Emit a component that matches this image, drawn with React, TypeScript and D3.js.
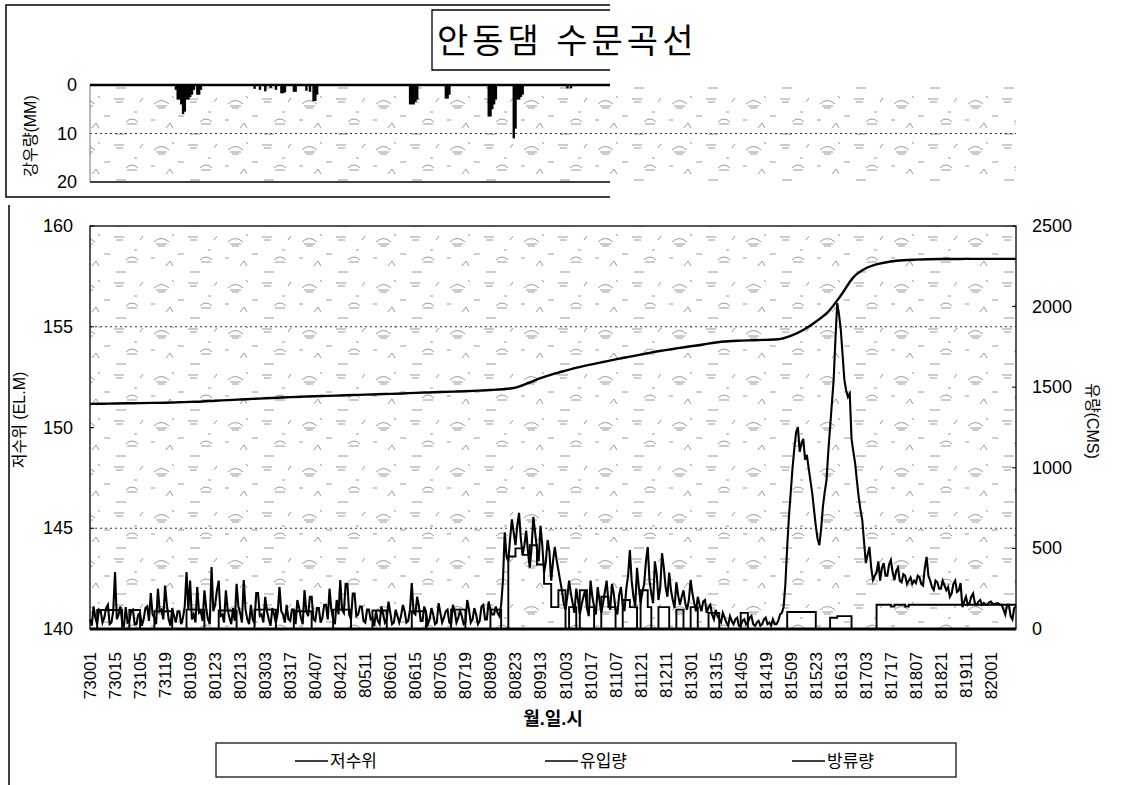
import React, { useEffect, useRef } from 'react';
import * as d3 from 'd3';

// x axis labels (month/day/hour), one every 14 hours
const xLabels = [
  '73001', '73015', '73105', '73119', '80109', '80123', '80213', '80303', '80317', '80407',
  '80421', '80511', '80601', '80615', '80705', '80719', '80809', '80823', '80913', '81003',
  '81017', '81107', '81121', '81211', '81301', '81315', '81405', '81419', '81509', '81523',
  '81613', '81703', '81717', '81807', '81821', '81911', '82001',
];
const labelStep = 14;
const totalHours = 518;

// reservoir level (EL.m), one reading every 7 hours
const levelStep = 7;
const waterLevel = [
  151.17, 151.18, 151.19, 151.2, 151.21, 151.22, 151.23, 151.25, 151.27, 151.29,
  151.33, 151.36, 151.39, 151.42, 151.45, 151.48, 151.51, 151.53, 151.55, 151.57,
  151.59, 151.61, 151.63, 151.65, 151.67, 151.69, 151.72, 151.74, 151.76, 151.78,
  151.8, 151.83, 151.86, 151.9, 151.98, 152.2, 152.45, 152.65, 152.82, 152.98,
  153.12, 153.25, 153.38, 153.5, 153.62, 153.74, 153.84, 153.94, 154.03, 154.12,
  154.22, 154.28, 154.31, 154.33, 154.35, 154.38, 154.55, 154.84, 155.25, 155.75,
  156.55, 157.45, 157.9, 158.12, 158.24, 158.3, 158.33, 158.35, 158.36, 158.36,
  158.37, 158.37, 158.37, 158.37, 158.37,
];

// inflow (CMS), hourly
const inflowStep = 1;
const inflow = [
  60, 20, 140, 70, 30, 120, 110, 40, 70, 130, 150, 30, 40, 110, 354, 60, 90, 140, 40, 20,
  136, 40, 50, 110, 120, 30, 30, 90, 100, 20, 60, 130, 140, 50, 223, 90, 70, 30, 250, 110,
  120, 60, 270, 150, 60, 20, 130, 80, 40, 110, 110, 30, 70, 140, 354, 120, 300, 60, 90, 40,
  260, 100, 110, 50, 240, 130, 60, 30, 385, 110, 150, 240, 300, 80, 90, 40, 240, 120, 70, 30,
  130, 50, 280, 140, 100, 40, 304, 120, 60, 30, 150, 60, 40, 223, 223, 80, 90, 40, 200, 110,
  60, 20, 130, 90, 40, 100, 260, 110, 90, 40, 150, 60, 50, 120, 120, 30, 180, 130, 70, 30,
  242, 110, 80, 200, 200, 60, 50, 130, 130, 40, 70, 150, 150, 60, 250, 120, 60, 30, 180, 90,
  304, 120, 100, 280, 280, 90, 60, 220, 220, 80, 90, 140, 140, 50, 40, 120, 120, 60, 70, 20,
  110, 50, 30, 140, 90, 40, 60, 170, 100, 30, 40, 120, 80, 40, 80, 150, 110, 40, 50, 120,
  285, 100, 90, 200, 140, 50, 50, 140, 100, 30, 60, 130, 90, 30, 40, 160, 100, 40, 70, 110,
  120, 40, 30, 150, 110, 40, 70, 110, 80, 30, 40, 180, 120, 40, 60, 130, 90, 30, 50, 140,
  150, 60, 60, 170, 120, 90, 90, 140, 100, 80, 150, 300, 600, 450, 420, 560, 680, 600, 520, 640,
  720, 560, 460, 520, 610, 480, 380, 500, 695, 600, 500, 420, 640, 520, 350, 420, 552, 480, 300, 420,
  509, 430, 366, 300, 240, 160, 120, 200, 300, 220, 160, 100, 250, 180, 90, 150, 200, 240, 130, 80,
  300, 200, 140, 90, 260, 180, 100, 160, 230, 300, 170, 120, 280, 220, 120, 90, 210, 260, 150, 110,
  250, 330, 490, 300, 200, 140, 380, 260, 160, 230, 280, 420, 509, 300, 220, 160, 420, 340, 180, 260,
  470, 380, 260, 200, 350, 240, 180, 130, 290, 210, 150, 200, 240, 160, 120, 180, 304, 220, 160, 110,
  200, 150, 110, 170, 180, 100, 136, 150, 90, 60, 120, 80, 60, 40, 100, 70, 40, 20, 80, 50,
  30, 60, 70, 20, 20, 50, 60, 30, 40, 70, 80, 30, 20, 40, 50, 20, 30, 60, 70, 30,
  40, 20, 60, 30, 30, 50, 90, 100, 136, 280, 509, 700, 850, 1000, 1120, 1220, 1253, 1100, 1150, 1180,
  1050, 1080, 1000, 920, 844, 740, 640, 560, 520, 620, 760, 850, 924, 1100, 1250, 1400, 1545, 1800, 2022, 1950,
  1855, 1700, 1545, 1480, 1440, 1460, 1180, 1100, 1030, 920, 820, 740, 676, 540, 409, 460, 509, 380, 304, 330,
  350, 420, 300, 380, 409, 330, 330, 400, 428, 350, 304, 360, 380, 300, 290, 340, 330, 280, 300, 320,
  280, 300, 285, 330, 320, 280, 270, 380, 447, 330, 300, 260, 242, 300, 290, 250, 250, 300, 270, 240,
  260, 200, 220, 280, 300, 230, 240, 285, 136, 170, 200, 150, 160, 200, 220, 160, 150, 170, 180, 150,
  161, 150, 150, 165, 170, 155, 155, 160, 160, 150, 150, 120, 90, 150, 150, 80, 60, 130, 140,
];

// outflow (CMS), one reading every 2 hours
const outflowStep = 2;
const outflow = [
  0, 0, 118, 118, 118, 118, 118, 118, 118, 0,
  0, 118, 118, 118, 0, 0, 0, 0, 110, 110,
  110, 110, 110, 0, 0, 0, 0, 120, 120, 120,
  120, 120, 0, 0, 0, 0, 115, 115, 115, 115,
  115, 0, 0, 0, 0, 0, 120, 120, 120, 120,
  120, 120, 0, 0, 0, 0, 0, 110, 110, 110,
  110, 110, 0, 0, 0, 0, 0, 0, 120, 120,
  120, 120, 120, 0, 0, 0, 0, 0, 0, 115,
  115, 115, 115, 0, 0, 0, 0, 0, 0, 0,
  110, 110, 110, 110, 0, 0, 0, 0, 0, 0,
  0, 120, 120, 120, 120, 0, 0, 0, 0, 0,
  0, 0, 120, 120, 120, 0, 0, 450, 450, 500,
  500, 460, 460, 520, 520, 400, 400, 280, 280, 136,
  136, 240, 240, 0, 136, 136, 0, 240, 240, 136,
  136, 0, 0, 200, 200, 136, 136, 0, 0, 180,
  180, 136, 136, 0, 240, 240, 136, 0, 0, 136,
  136, 136, 0, 0, 120, 120, 0, 0, 136, 136,
  0, 0, 0, 100, 100, 100, 0, 0, 0, 0,
  0, 0, 100, 100, 0, 0, 0, 0, 0, 0,
  0, 0, 0, 0, 0, 105, 105, 105, 105, 105,
  105, 105, 105, 0, 0, 0, 0, 70, 70, 80,
  80, 80, 80, 0, 0, 0, 0, 0, 0, 0,
  150, 150, 150, 150, 140, 150, 150, 150, 140, 150,
  150, 150, 150, 150, 150, 150, 150, 150, 150, 150,
  150, 150, 150, 150, 150, 150, 150, 150, 150, 150,
  150, 150, 150, 150, 150, 150, 150, 150, 150, 150,
];

// hourly rainfall (mm)
const rainHours = [
  48, 49, 50, 51, 52, 53, 54, 55, 56, 57, 58, 60, 61, 62, 92, 95, 98, 101, 104, 107,
  108, 109, 114, 115, 121, 123, 125, 126, 127, 179, 180, 181, 182, 183, 199, 200, 201, 223, 224, 225,
  226, 227, 237, 238, 239, 240, 241, 242, 267, 269,
];
const rainMM = [
  1, 3, 3, 4, 6, 5.5, 3, 3, 2.5, 2, 1, 2, 2, 1, 0.8, 1, 1.3, 0.6, 1, 1.7,
  1.7, 1.5, 1.4, 1.4, 1.2, 1.4, 3.3, 3.3, 2, 4, 4, 4, 3.5, 3, 2.8, 2.8, 2, 6.5, 6.5, 5,
  4, 3, 11, 9, 3, 3, 2.5, 2, 0.7, 0.7,
];

const levelTicks = [140, 145, 150, 155, 160];
const levelGrid = [145, 155];
const flowTicks = [0, 500, 1000, 1500, 2000, 2500];
const rainTicks = [0, 10, 20];
const legendItems = ['저수위', '유입량', '방류량'];

const FONT = "'Liberation Sans', Arial, 'Noto Sans CJK KR', sans-serif";

const HydroChart: React.FC = () => {
  const svgRef = useRef<SVGSVGElement>(null);

  useEffect(() => {
    if (!svgRef.current) return;
    const svg = d3.select(svgRef.current);
    svg.selectAll('*').remove();

    const plot = { left: 90, right: 1016, top: 226, bottom: 629 };
    const rainPlot = { left: 90, top: 85, bottom: 182, cut: 610 };

    const x = d3.scaleLinear().domain([0, totalHours]).range([plot.left, plot.right]);
    const yLevel = d3.scaleLinear().domain([140, 160]).range([plot.bottom, plot.top]);
    const yFlow = d3.scaleLinear().domain([0, 2500]).range([plot.bottom, plot.top]);
    const yRain = d3.scaleLinear().domain([0, 20]).range([rainPlot.top, rainPlot.bottom]);

    // scanned paper texture
    const defs = svg.append('defs');
    const pat = defs
      .append('pattern')
      .attr('id', 'speckle')
      .attr('patternUnits', 'userSpaceOnUse')
      .attr('width', 74)
      .attr('height', 46);
    const marks = [
      'M6 12 q7 -7 15 0',
      'M8 14 h11 M10 16 h7',
      'M40 7 h10 M42 10 h7',
      'M52 30 q6 -6 12 0 M53 32 h10',
      'M18 36 l4 -5 l3 5',
      'M30 24 h6',
      'M66 10 l3 -4',
      'M42 42 h10',
      'M3 28 h4',
      'M60 20 h3',
      'M24 4 l2 2',
    ];
    pat
      .selectAll('path')
      .data(marks)
      .enter()
      .append('path')
      .attr('d', (d) => d)
      .attr('fill', 'none')
      .attr('stroke', '#8c8c8c')
      .attr('stroke-width', 0.9);

    svg.append('rect').attr('width', 1128).attr('height', 785).attr('fill', '#fff');

    svg
      .append('rect')
      .attr('x', rainPlot.left)
      .attr('y', rainPlot.top)
      .attr('width', plot.right - rainPlot.left)
      .attr('height', rainPlot.bottom - rainPlot.top)
      .attr('fill', 'url(#speckle)');
    svg
      .append('rect')
      .attr('x', plot.left)
      .attr('y', plot.top)
      .attr('width', plot.right - plot.left)
      .attr('height', plot.bottom - plot.top)
      .attr('fill', 'url(#speckle)');

    // ---- rainfall panel ----
    const top = svg.append('g');
    top
      .append('path')
      .attr('d', `M${rainPlot.cut},5 H6 V197 H${rainPlot.cut}`)
      .attr('fill', 'none')
      .attr('stroke', '#000')
      .attr('stroke-width', 1.5);

    top
      .append('path')
      .attr('d', `M${rainPlot.cut},10 H432 V70 H${rainPlot.cut}`)
      .attr('fill', 'none')
      .attr('stroke', '#000')
      .attr('stroke-width', 1.3);

    top
      .append('text')
      .attr('x', 437)
      .attr('y', 53)
      .attr('font-family', FONT)
      .attr('font-size', 34)
      .attr('letter-spacing', 4)
      .text('안동댐 수문곡선');

    top
      .append('line')
      .attr('x1', rainPlot.left)
      .attr('x2', plot.right)
      .attr('y1', yRain(10))
      .attr('y2', yRain(10))
      .attr('stroke', '#333')
      .attr('stroke-dasharray', '2,3');

    top
      .selectAll('.rain')
      .data(rainHours.map((h, i) => ({ h, v: rainMM[i] })))
      .enter()
      .append('rect')
      .attr('class', 'rain')
      .attr('x', (d) => x(d.h) - 1.1)
      .attr('y', yRain(0))
      .attr('width', 2.4)
      .attr('height', (d) => yRain(d.v) - yRain(0))
      .attr('fill', '#000');

    top
      .append('line')
      .attr('x1', rainPlot.left)
      .attr('x2', rainPlot.left)
      .attr('y1', rainPlot.top)
      .attr('y2', rainPlot.bottom)
      .attr('stroke', '#777');
    [0, 20].forEach((v) => {
      top
        .append('line')
        .attr('x1', rainPlot.left)
        .attr('x2', rainPlot.cut)
        .attr('y1', yRain(v))
        .attr('y2', yRain(v))
        .attr('stroke', '#000')
        .attr('stroke-width', v === 0 ? 2.5 : 1.5);
    });

    top
      .selectAll('.rain-tick')
      .data(rainTicks)
      .enter()
      .append('text')
      .attr('x', 77)
      .attr('y', (d) => yRain(d) + 6)
      .attr('text-anchor', 'end')
      .attr('font-family', FONT)
      .attr('font-size', 18)
      .text((d) => d);

    top
      .append('text')
      .attr('transform', 'translate(36,136) rotate(-90)')
      .attr('text-anchor', 'middle')
      .attr('font-family', FONT)
      .attr('font-size', 16)
      .text('강우량(MM)');

    // ---- main panel ----
    const g = svg.append('g');
    g.append('line')
      .attr('x1', 9)
      .attr('x2', 9)
      .attr('y1', 205)
      .attr('y2', 785)
      .attr('stroke', '#000')
      .attr('stroke-width', 1.5);

    g.selectAll('.grid')
      .data(levelGrid)
      .enter()
      .append('line')
      .attr('x1', plot.left)
      .attr('x2', plot.right)
      .attr('y1', (d) => yLevel(d))
      .attr('y2', (d) => yLevel(d))
      .attr('stroke', '#333')
      .attr('stroke-dasharray', '2,3');

    const flowLine = (vals: number[], step: number, curve: d3.CurveFactory) =>
      d3
        .line<number>()
        .x((_, i) => x(i * step))
        .y((d) => yFlow(d))
        .curve(curve)(vals);

    g.append('path')
      .attr('d', flowLine(outflow, outflowStep, d3.curveStepAfter))
      .attr('fill', 'none')
      .attr('stroke', '#000')
      .attr('stroke-width', 1.9);

    g.append('path')
      .attr('d', flowLine(inflow, inflowStep, d3.curveLinear))
      .attr('fill', 'none')
      .attr('stroke', '#000')
      .attr('stroke-width', 2.1);

    const levelPath = d3
      .line<number>()
      .x((_, i) => x(i * levelStep))
      .y((d) => yLevel(d))
      .curve(d3.curveMonotoneX);
    g.append('path')
      .attr('d', levelPath(waterLevel))
      .attr('fill', 'none')
      .attr('stroke', '#000')
      .attr('stroke-width', 2.4);

    g.append('rect')
      .attr('x', plot.left)
      .attr('y', plot.top)
      .attr('width', plot.right - plot.left)
      .attr('height', plot.bottom - plot.top)
      .attr('fill', 'none')
      .attr('stroke', '#000')
      .attr('stroke-width', 1.3);
    g.append('line')
      .attr('x1', plot.left)
      .attr('x2', plot.right)
      .attr('y1', plot.bottom)
      .attr('y2', plot.bottom)
      .attr('stroke', '#000')
      .attr('stroke-width', 3);

    // left axis
    g.selectAll('.lt')
      .data(levelTicks)
      .enter()
      .append('text')
      .attr('x', 73)
      .attr('y', (d) => yLevel(d) + 6)
      .attr('text-anchor', 'end')
      .attr('font-family', FONT)
      .attr('font-size', 18)
      .text((d) => d);
    g.selectAll('.ltick')
      .data(levelTicks)
      .enter()
      .append('line')
      .attr('x1', plot.left)
      .attr('x2', plot.left + 4)
      .attr('y1', (d) => yLevel(d))
      .attr('y2', (d) => yLevel(d))
      .attr('stroke', '#000');

    // right axis
    g.selectAll('.rt')
      .data(flowTicks)
      .enter()
      .append('text')
      .attr('x', 1032)
      .attr('y', (d) => yFlow(d) + 6)
      .attr('font-family', FONT)
      .attr('font-size', 18)
      .text((d) => d);
    g.selectAll('.rtick')
      .data(flowTicks)
      .enter()
      .append('line')
      .attr('x1', plot.right - 4)
      .attr('x2', plot.right)
      .attr('y1', (d) => yFlow(d))
      .attr('y2', (d) => yFlow(d))
      .attr('stroke', '#000');

    g.append('text')
      .attr('transform', 'translate(25,420) rotate(-90)')
      .attr('text-anchor', 'middle')
      .attr('font-family', FONT)
      .attr('font-size', 16)
      .text('저수위 (EL.M)');
    g.append('text')
      .attr('transform', 'translate(1087,421) rotate(90)')
      .attr('text-anchor', 'middle')
      .attr('font-family', FONT)
      .attr('font-size', 16)
      .text('유량(CMS)');

    // x labels
    g.selectAll('.xl')
      .data(xLabels)
      .enter()
      .append('text')
      .attr('transform', (_, i) => `translate(${x(i * labelStep) + 6},652) rotate(-90)`)
      .attr('text-anchor', 'end')
      .attr('font-family', FONT)
      .attr('font-size', 17)
      .text((d) => d);

    g.append('text')
      .attr('x', 553)
      .attr('y', 725)
      .attr('text-anchor', 'middle')
      .attr('font-family', FONT)
      .attr('font-size', 18)
      .attr('font-weight', 'bold')
      .text('월.일.시');

    // legend
    const lg = svg.append('g');
    lg.append('rect')
      .attr('x', 216)
      .attr('y', 743)
      .attr('width', 740)
      .attr('height', 34)
      .attr('fill', '#fff')
      .attr('stroke', '#000')
      .attr('stroke-width', 1.2);
    const legendX = [295, 545, 792];
    legendItems.forEach((name, i) => {
      lg.append('line')
        .attr('x1', legendX[i])
        .attr('x2', legendX[i] + 33)
        .attr('y1', 761)
        .attr('y2', 761)
        .attr('stroke', '#000')
        .attr('stroke-width', 1.5);
      lg.append('text')
        .attr('x', legendX[i] + 35)
        .attr('y', 767)
        .attr('font-family', FONT)
        .attr('font-size', 17)
        .text(name);
    });
  }, []);

  return (
    <svg
      ref={svgRef}
      width={1128}
      height={785}
      style={{ position: 'absolute', left: 0, top: 0, display: 'block' }}
    />
  );
};

export default function App() {
  return <HydroChart />;
}
